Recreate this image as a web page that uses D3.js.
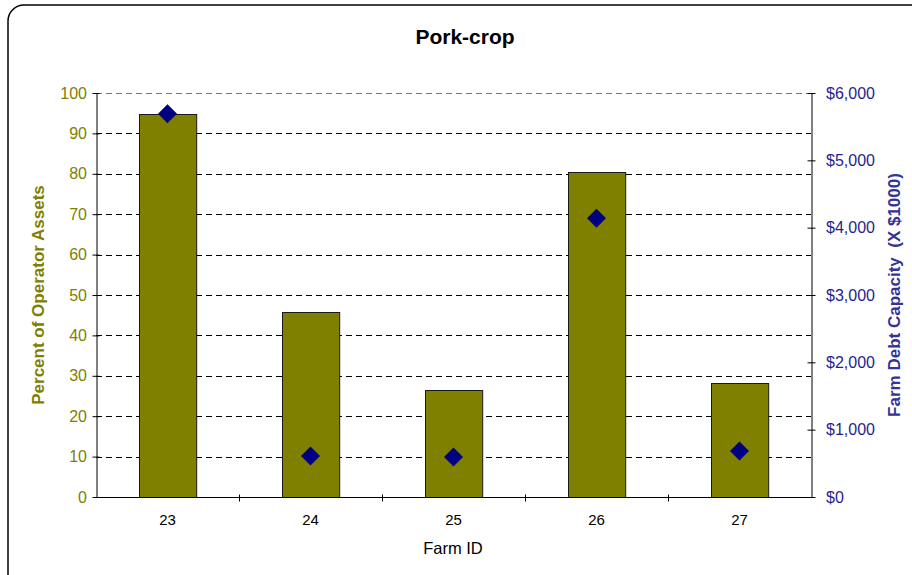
<!DOCTYPE html>
<html>
<head>
<meta charset="utf-8">
<script src="https://cdn.jsdelivr.net/npm/d3@7"></script>
<style>
  html, body { margin: 0; padding: 0; background: #fff; }
  svg { display: block; font-family: "Liberation Sans", Arial, sans-serif; }
</style>
</head>
<body>
<svg id="chart" width="912" height="575"></svg>
<script>
// Farm identifiers along the x axis
const farmIds = ["23", "24", "25", "26", "27"];
// Percent of operator assets (bars, left axis)
const assetPercent = [94.8, 45.8, 26.6, 80.4, 28.2];
// Farm debt capacity in thousands of dollars (diamonds, right axis)
const debtCapacity = [5690, 610, 595, 4140, 685];
// Tick values for both vertical axes
const leftTicks = [0, 10, 20, 30, 40, 50, 60, 70, 80, 90, 100];
const rightTicks = [0, 1000, 2000, 3000, 4000, 5000, 6000];

const svg = d3.select("#chart");
const olive = "#808000";
const navy = "#000080";
const navyText = "#1f1f8f";

const plot = { left: 96, right: 811, top: 93, bottom: 497 };

// Outer frame with rounded corners
svg.append("rect")
  .attr("x", 8).attr("y", 5)
  .attr("width", 920).attr("height", 585)
  .attr("rx", 16).attr("ry", 16)
  .attr("fill", "#fff")
  .attr("stroke", "#000").attr("stroke-width", 1.5);

const x = d3.scaleBand().domain(farmIds)
  .range([plot.left, plot.right]).paddingInner(0.6).paddingOuter(0.3);
const xOuter = d3.scaleBand().domain(farmIds).range([plot.left, plot.right]);
const yLeft = d3.scaleLinear().domain([0, 100]).range([plot.bottom, plot.top]);
const yRight = d3.scaleLinear().domain([0, 6000]).range([plot.bottom, plot.top]);

// Dashed horizontal gridlines
svg.append("g").selectAll("line").data(leftTicks.filter(d => d > 0)).join("line")
  .attr("x1", plot.left).attr("x2", plot.right)
  .attr("y1", d => Math.round(yLeft(d)) + 0.5).attr("y2", d => Math.round(yLeft(d)) + 0.5)
  .attr("stroke", d => d === 100 ? "#777" : "#000")
  .attr("stroke-width", 1)
  .attr("stroke-dasharray", "6,4");

// Bars
svg.append("g").selectAll("rect").data(farmIds).join("rect")
  .attr("x", d => Math.round(x(d)) + 0.5)
  .attr("y", (d, i) => Math.round(yLeft(assetPercent[i])) + 0.5)
  .attr("width", x.bandwidth())
  .attr("height", (d, i) => Math.round(yLeft(0)) - Math.round(yLeft(assetPercent[i])))
  .attr("fill", olive)
  .attr("stroke", "#1a1a1a").attr("stroke-width", 1);

// Left axis
const leftAxis = d3.axisLeft(yLeft).tickValues(leftTicks).tickSizeInner(5).tickSizeOuter(0).tickPadding(6);
const gL = svg.append("g").attr("transform", `translate(${plot.left + 0.5},0)`).call(leftAxis);
gL.select(".domain").attr("stroke", "#000");
gL.selectAll(".tick line").attr("stroke", "#000").attr("x1", 3).attr("x2", -4);
gL.selectAll(".tick text").attr("fill", olive).attr("font-size", 16)
  .attr("font-family", "Liberation Sans, Arial, sans-serif").attr("x", -9.5);

// Right axis
const rightAxis = d3.axisRight(yRight).tickValues(rightTicks)
  .tickFormat(d => "$" + d3.format(",")(d)).tickSizeInner(5).tickSizeOuter(0).tickPadding(6);
const gR = svg.append("g").attr("transform", `translate(${plot.right + 0.5},0)`).call(rightAxis);
gR.select(".domain").attr("stroke", "#000");
gR.selectAll(".tick line").attr("stroke", "#000").attr("x1", -4).attr("x2", 4);
gR.selectAll(".tick text").attr("fill", navyText).attr("font-size", 16)
  .attr("font-family", "Liberation Sans, Arial, sans-serif").attr("x", 14.5);

// Bottom axis: category labels with ticks between categories
const gB = svg.append("g").attr("transform", `translate(0,${plot.bottom + 0.5})`);
gB.append("line").attr("x1", plot.left).attr("x2", plot.right).attr("stroke", "#000");
gB.selectAll("line.sep").data(farmIds.slice(1)).join("line").attr("class", "sep")
  .attr("x1", d => Math.round(xOuter(d)) + 0.5).attr("x2", d => Math.round(xOuter(d)) + 0.5)
  .attr("y1", -3).attr("y2", 4).attr("stroke", "#000");
gB.selectAll("text").data(farmIds).join("text")
  .attr("x", d => xOuter(d) + xOuter.bandwidth() / 2)
  .attr("y", 27)
  .attr("text-anchor", "middle")
  .attr("font-size", 15).attr("fill", "#000")
  .text(d => d);

// Diamond markers for debt capacity
svg.append("g").selectAll("path").data(farmIds).join("path")
  .attr("transform", (d, i) => `translate(${xOuter(d) + xOuter.bandwidth() / 2},${yRight(debtCapacity[i])})`)
  .attr("d", "M0,-9.5L9.5,0L0,9.5L-9.5,0Z")
  .attr("fill", navy);

// Title
svg.append("text").attr("x", 465).attr("y", 44).attr("text-anchor", "middle")
  .attr("font-size", 21).attr("font-weight", "bold").attr("fill", "#000").text("Pork-crop");

// Axis titles
svg.append("text").attr("x", 453).attr("y", 554).attr("text-anchor", "middle")
  .attr("font-size", 16.5).attr("fill", "#000").text("Farm ID");

svg.append("text").attr("transform", "translate(43.5,295) rotate(-90)")
  .attr("text-anchor", "middle").attr("font-size", 17).attr("font-weight", "bold")
  .attr("fill", olive).text("Percent of Operator Assets");

svg.append("text").attr("transform", "translate(900,295) rotate(-90)")
  .attr("text-anchor", "middle").attr("font-size", 17).attr("font-weight", "bold")
  .attr("fill", "#333399").attr("xml:space", "preserve").text("Farm Debt Capacity  (X $1000)");
</script>
</body>
</html>
